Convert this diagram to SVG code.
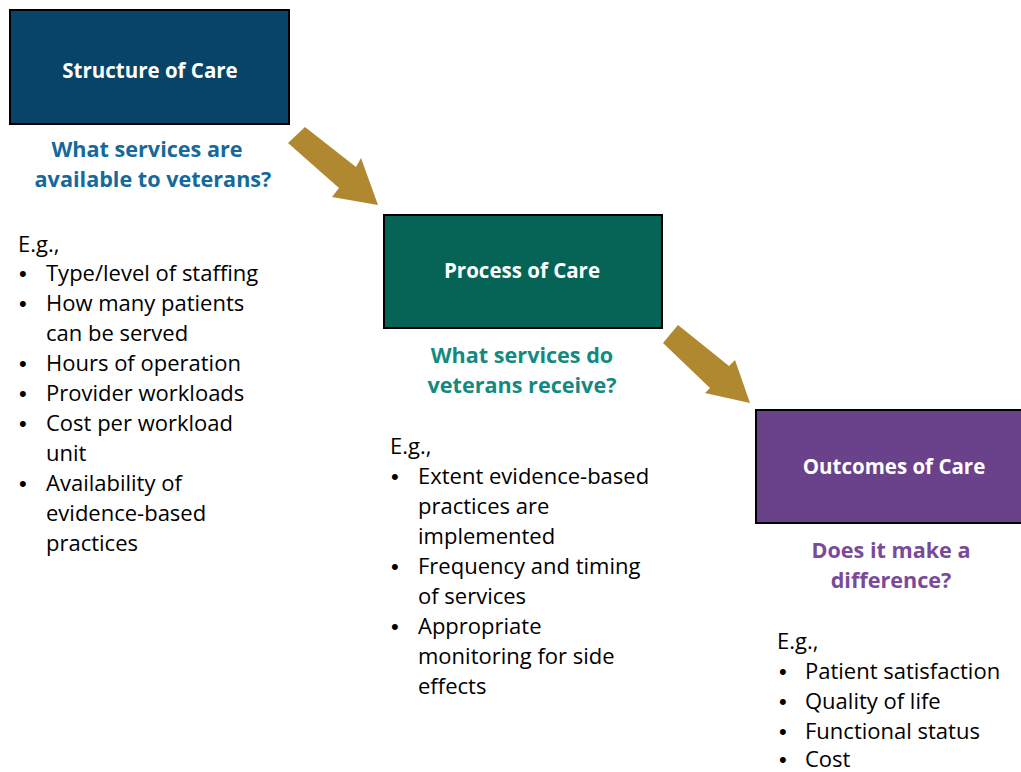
<svg xmlns="http://www.w3.org/2000/svg" width="1021" height="772" viewBox="0 0 1021 772">
<style>
.box{stroke:#000;stroke-width:2}
.title{font-family:"Open Sans","Liberation Sans",sans-serif;font-weight:bold;font-size:20.5px;fill:#fff;text-anchor:middle}
.q{font-family:"Open Sans","Liberation Sans",sans-serif;font-weight:bold;font-size:21.6px;text-anchor:middle}
.body{font-family:"Open Sans","Liberation Sans",sans-serif;font-size:22px;fill:#000}
.b{font-family:"Liberation Sans",sans-serif;font-size:22px;fill:#000}
.arrow{fill:#b08830}
</style>
<rect width="1021" height="772" fill="#fff"/>
<g id="structure">
<rect class="box" x="10" y="10" width="279" height="114" fill="#084368"/>
<text class="title" x="150" y="78">Structure of Care</text>
<text class="q" fill="#15699c" x="147" y="157">What services are</text>
<text class="q" fill="#15699c" x="153" y="187">available to veterans?</text>
<text class="body" x="18" y="252">E.g.,</text>
<text class="b" x="19" y="281">•</text><text class="body" x="46" y="281">Type/level of staffing</text>
<text class="b" x="19" y="311">•</text><text class="body" x="46" y="311">How many patients</text>
<text class="body" x="46" y="341">can be served</text>
<text class="b" x="19" y="371">•</text><text class="body" x="46" y="371">Hours of operation</text>
<text class="b" x="19" y="401">•</text><text class="body" x="46" y="401">Provider workloads</text>
<text class="b" x="19" y="431">•</text><text class="body" x="46" y="431">Cost per workload</text>
<text class="body" x="46" y="461">unit</text>
<text class="b" x="19" y="491">•</text><text class="body" x="46" y="491">Availability of</text>
<text class="body" x="46" y="521">evidence-based</text>
<text class="body" x="46" y="551">practices</text>
</g>
<g id="process">
<rect class="box" x="384" y="215" width="278" height="113" fill="#066457"/>
<text class="title" x="522" y="278">Process of Care</text>
<text class="q" fill="#138a80" x="522" y="363">What services do</text>
<text class="q" fill="#138a80" x="522" y="393">veterans receive?</text>
<text class="body" x="390" y="454">E.g.,</text>
<text class="b" x="391" y="484">•</text><text class="body" x="418" y="484">Extent evidence-based</text>
<text class="body" x="418" y="514">practices are</text>
<text class="body" x="418" y="544">implemented</text>
<text class="b" x="391" y="574">•</text><text class="body" x="418" y="574">Frequency and timing</text>
<text class="body" x="418" y="604">of services</text>
<text class="b" x="391" y="634">•</text><text class="body" x="418" y="634">Appropriate</text>
<text class="body" x="418" y="664">monitoring for side</text>
<text class="body" x="418" y="694">effects</text>
</g>
<g id="outcomes">
<rect class="box" x="756" y="410" width="270" height="113" fill="#6a428c"/>
<text class="title" x="894" y="474">Outcomes of Care</text>
<text class="q" fill="#7a4a9a" x="891" y="558">Does it make a</text>
<text class="q" fill="#7a4a9a" x="891" y="588">difference?</text>
<text class="body" x="777" y="649">E.g.,</text>
<text class="b" x="779" y="679">•</text><text class="body" x="805" y="679">Patient satisfaction</text>
<text class="b" x="779" y="709">•</text><text class="body" x="805" y="709">Quality of life</text>
<text class="b" x="779" y="739">•</text><text class="body" x="805" y="739">Functional status</text>
<text class="b" x="779" y="767">•</text><text class="body" x="805" y="767">Cost</text>
</g>
<g id="connectors">
<polygon class="arrow" points="305,127 356,167 361,158 378,205 332,197 339,188 288,143"/>
<polygon class="arrow" points="678,325 729,366 735,360 750,403 705,393 710,388 663,343"/>
</g>
</svg>
